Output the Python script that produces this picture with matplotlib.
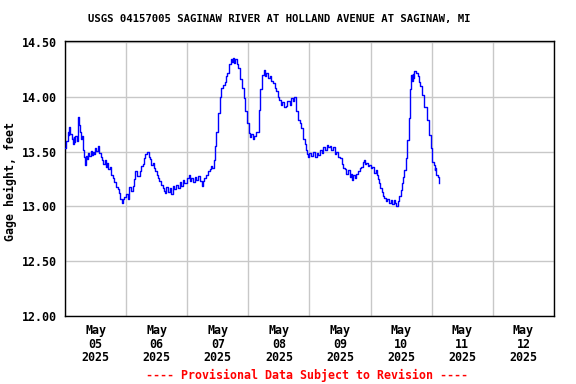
#!/usr/bin/env python3
"""USGS gage height chart, Saginaw River at Holland Avenue."""

import numpy as np
import matplotlib
matplotlib.use('Agg')
import matplotlib.pyplot as plt
import matplotlib.dates as mdates
from matplotlib.ticker import FixedLocator, FuncFormatter

# days since 2025-05-05 00:00 and gage height (ft)
day_offset = [
    0.000, 0.020, 0.043, 0.060, 0.070, 0.090, 0.109, 0.125, 0.140, 0.153, 0.170, 0.190,
    0.205, 0.220, 0.232, 0.245, 0.262, 0.278, 0.300, 0.315, 0.327, 0.340, 0.355, 0.375,
    0.400, 0.420, 0.440, 0.453, 0.470, 0.490, 0.510, 0.535, 0.560, 0.590, 0.610, 0.628,
    0.650, 0.670, 0.690, 0.710, 0.730, 0.753, 0.780, 0.808, 0.835, 0.863, 0.885, 0.906,
    0.928, 0.950, 0.970, 1.000, 1.027, 1.054, 1.080, 1.109, 1.130, 1.153, 1.185, 1.220,
    1.250, 1.273, 1.300, 1.316, 1.344, 1.370, 1.390, 1.410, 1.435, 1.460, 1.480, 1.500,
    1.525, 1.546, 1.575, 1.600, 1.625, 1.644, 1.660, 1.680, 1.710, 1.737, 1.765, 1.790,
    1.820, 1.846, 1.875, 1.900, 1.930, 1.955, 1.990, 2.027, 2.045, 2.065, 2.090, 2.120,
    2.150, 2.175, 2.210, 2.245, 2.260, 2.280, 2.310, 2.340, 2.365, 2.393, 2.410, 2.430,
    2.448, 2.475, 2.500, 2.530, 2.557, 2.585, 2.610, 2.630, 2.650, 2.683, 2.710, 2.730,
    2.748, 2.765, 2.786, 2.810, 2.830, 2.870, 2.900, 2.930, 2.950, 2.980, 3.005, 3.030,
    3.050, 3.075, 3.100, 3.130, 3.170, 3.196, 3.223, 3.256, 3.275, 3.294, 3.320, 3.350,
    3.375, 3.400, 3.430, 3.458, 3.480, 3.500, 3.530, 3.556, 3.585, 3.610, 3.640, 3.677,
    3.700, 3.730, 3.750, 3.776, 3.810, 3.840, 3.868, 3.895, 3.920, 3.940, 3.960, 3.977,
    4.000, 4.030, 4.060, 4.087, 4.115, 4.140, 4.170, 4.197, 4.225, 4.250, 4.280, 4.305,
    4.330, 4.360, 4.390, 4.415, 4.440, 4.470, 4.507, 4.530, 4.550, 4.575, 4.600, 4.630,
    4.657, 4.680, 4.700, 4.720, 4.740, 4.765, 4.790, 4.820, 4.846, 4.870, 4.884, 4.905,
    4.930, 4.955, 4.980, 5.000, 5.025, 5.060, 5.080, 5.100, 5.120, 5.140, 5.160, 5.180,
    5.200, 5.220, 5.250, 5.275, 5.300, 5.330, 5.355, 5.385, 5.400, 5.420, 5.445, 5.467,
    5.490, 5.510, 5.530, 5.550, 5.575, 5.600, 5.620, 5.640, 5.660, 5.675, 5.687, 5.700,
    5.715, 5.740, 5.770, 5.790, 5.810, 5.840, 5.880, 5.920, 5.953, 5.980, 6.008, 6.030,
    6.046, 6.060, 6.073, 6.095, 6.117,
]
gage_height = [
    13.53, 13.60, 13.68, 13.65, 13.73, 13.66, 13.62, 13.57, 13.63, 13.59, 13.64, 13.60,
    13.66, 13.82, 13.74, 13.68, 13.62, 13.64, 13.52, 13.45, 13.38, 13.46, 13.43, 13.49,
    13.46, 13.51, 13.47, 13.50, 13.48, 13.53, 13.51, 13.55, 13.49, 13.45, 13.42, 13.39,
    13.42, 13.36, 13.40, 13.34, 13.36, 13.29, 13.26, 13.22, 13.18, 13.16, 13.12, 13.07,
    13.03, 13.07, 13.09, 13.11, 13.07, 13.18, 13.14, 13.19, 13.25, 13.32, 13.28, 13.32,
    13.37, 13.39, 13.44, 13.48, 13.50, 13.45, 13.43, 13.38, 13.40, 13.35, 13.32, 13.29,
    13.26, 13.23, 13.20, 13.17, 13.14, 13.12, 13.18, 13.13, 13.17, 13.11, 13.19, 13.16,
    13.20, 13.17, 13.22, 13.19, 13.24, 13.21, 13.26, 13.29, 13.23, 13.26, 13.22, 13.27,
    13.24, 13.28, 13.23, 13.19, 13.23, 13.26, 13.29, 13.32, 13.34, 13.37, 13.35, 13.42,
    13.55, 13.68, 13.85, 14.00, 14.08, 14.11, 14.14, 14.19, 14.22, 14.30, 14.35, 14.32,
    14.36, 14.31, 14.35, 14.30, 14.26, 14.16, 14.08, 13.99, 13.87, 13.76, 13.67, 13.63,
    13.66, 13.62, 13.64, 13.68, 13.88, 14.07, 14.20, 14.25, 14.19, 14.22, 14.17, 14.19,
    14.15, 14.13, 14.08, 14.05, 14.00, 13.97, 13.93, 13.95, 13.91, 13.92, 13.96, 13.93,
    13.99, 13.96, 14.00, 13.87, 13.79, 13.76, 13.72, 13.62, 13.57, 13.52, 13.48, 13.45,
    13.49, 13.46, 13.50, 13.45, 13.49, 13.47, 13.52, 13.49, 13.54, 13.52, 13.56, 13.54,
    13.55, 13.52, 13.54, 13.48, 13.50, 13.45, 13.44, 13.39, 13.35, 13.34, 13.30, 13.33,
    13.27, 13.30, 13.24, 13.29, 13.26, 13.30, 13.32, 13.35, 13.36, 13.41, 13.42, 13.39,
    13.40, 13.37, 13.38, 13.35, 13.36, 13.31, 13.33, 13.29, 13.25, 13.21, 13.17, 13.13,
    13.10, 13.08, 13.05, 13.07, 13.03, 13.06, 13.02, 13.06, 13.03, 13.00, 13.05, 13.10,
    13.15, 13.21, 13.27, 13.33, 13.44, 13.61, 13.81, 14.07, 14.20, 14.15, 14.21, 14.17,
    14.24, 14.22, 14.19, 14.14, 14.10, 14.02, 13.91, 13.79, 13.65, 13.53, 13.41, 13.38,
    13.33, 13.35, 13.29, 13.27, 13.21,
]

y_ticks = [12.0, 12.5, 13.0, 13.5, 14.0, 14.5]
day_labels = ['May\n05\n2025', 'May\n06\n2025', 'May\n07\n2025', 'May\n08\n2025',
              'May\n09\n2025', 'May\n10\n2025', 'May\n11\n2025', 'May\n12\n2025']

start = np.datetime64('2025-05-05T00:00')
times = start + (np.array(day_offset) * 86400).astype('timedelta64[s]')
times = times.astype('datetime64[s]').astype(object)

mono = 'DejaVu Sans Mono'

fig = plt.figure(figsize=(5.76, 3.84), dpi=100)
ax = fig.add_axes([0.1128, 0.177, 0.849, 0.716])

ax.plot(times, gage_height, color='#0000ff', lw=1.0, drawstyle='steps-post', zorder=3)

day0 = mdates.date2num(start.astype(object))
n_days = len(day_labels)
ax.set_xlim(day0, day0 + n_days)
ax.set_ylim(y_ticks[0], y_ticks[-1] + 0.01)

# gridlines at midnight, labels centred at noon
ax.xaxis.set_major_locator(FixedLocator([day0 + i for i in range(n_days + 1)]))
ax.xaxis.set_major_formatter(FuncFormatter(lambda v, p: ''))
ax.xaxis.set_minor_locator(FixedLocator([day0 + i + 0.5 for i in range(n_days)]))
ax.xaxis.set_minor_formatter(FuncFormatter(lambda v, p: day_labels[p] if p < n_days else ''))
ax.tick_params(axis='x', which='both', length=0, pad=6)
ax.tick_params(axis='y', length=0, pad=6)

ax.set_yticks(y_ticks)
ax.set_yticklabels(['%.2f' % v for v in y_ticks])
for lab in ax.get_yticklabels() + ax.get_xticklabels(minor=True):
    lab.set_fontfamily(mono)
    lab.set_fontweight('bold')
    lab.set_fontsize(8.4)
    lab.set_linespacing(1.05)

ax.grid(True, which='major', color='#c8c8c8', lw=1.0, zorder=1)
for s in ax.spines.values():
    s.set_color('black')
    s.set_linewidth(1.0)

fig.text(10 / 576, 1 - 182 / 384, 'Gage height, feet', rotation=90, ha='center', va='center',
         fontfamily=mono, fontweight='bold', fontsize=8.4)

fig.text(0.485, 0.950, 'USGS 04157005 SAGINAW RIVER AT HOLLAND AVENUE AT SAGINAW, MI',
         ha='center', va='center', fontfamily=mono, fontweight='bold', fontsize=7.7)
fig.text(0.533, 0.023, '---- Provisional Data Subject to Revision ----', color='red',
         ha='center', va='center', fontfamily=mono, fontweight='bold', fontsize=8.4)

fig.savefig('out.png', dpi=100)
